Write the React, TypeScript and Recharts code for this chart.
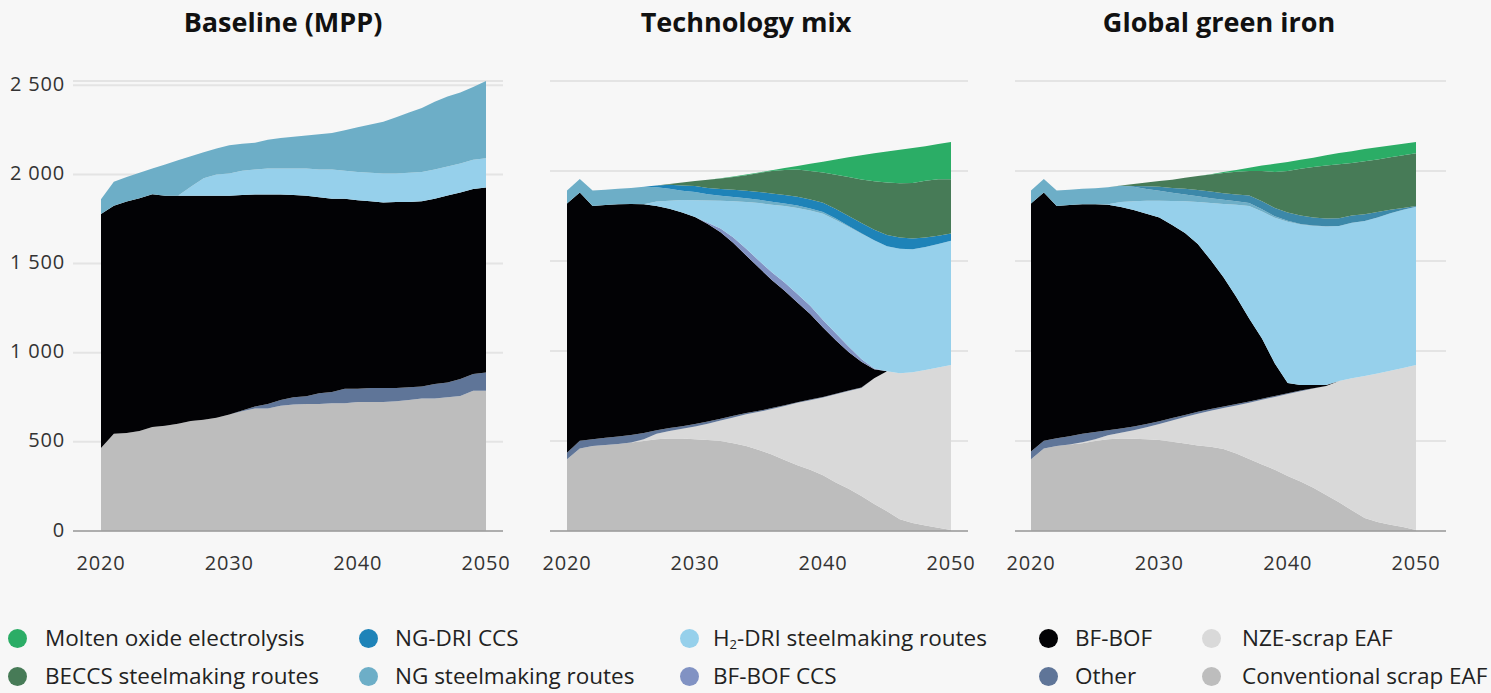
import React from 'react';
import { AreaChart, Area, XAxis, YAxis, CartesianGrid } from 'recharts';

const years = [2020,2021,2022,2023,2024,2025,2026,2027,2028,2029,2030,2031,2032,2033,2034,2035,2036,2037,2038,2039,2040,2041,2042,2043,2044,2045,2046,2047,2048,2049,2050];
const xTicks = [2020, 2030, 2040, 2050];
const yTicks = [0, 500, 1000, 1500, 2000, 2500];
const yTickLabels = ['0', '500', '1 000', '1 500', '2 000', '2 500'];
const panelTitles = ['Baseline (MPP)', 'Technology mix', 'Global green iron'];

// Baseline (MPP)
const p1Conv = [465,546,550,561,583,591,602,617,624,635,654,672,687,687,702,709,713,713,717,717,724,724,724,728,735,743,743,750,757,787,787];
const p1Other = [0,0,0,0,0,0,0,0,0,0,0,4,11,26,33,41,43,59,63,81,74,78,78,74,71,68,81,83,95,94,102];
const p1BF = [1313,1278,1298,1306,1306,1289,1278,1263,1256,1245,1226,1208,1189,1174,1152,1135,1124,1100,1083,1065,1057,1048,1041,1043,1039,1039,1039,1049,1046,1037,1037];
const p1H2 = [0,0,0,0,0,0,0,51,98,120,125,136,141,146,146,148,153,156,165,157,158,160,162,160,165,163,165,163,163,165,165];
const p1NG = [83,135,137,143,144,175,200,171,147,145,158,152,150,161,171,179,185,198,205,228,252,270,291,315,338,359,379,392,398,408,433];

// Technology mix
const p2Conv = [398,459,472,478,484,491,500,510,514,514,510,505,500,488,472,450,425,395,365,340,310,270,235,195,150,110,65,45,30,18,5];
const p2NZE = [0,0,0,0,0,0,10,30,42,54,70,91,114,142,176,212,253,299,347,387,432,490,543,600,698,778,811,837,865,890,917];
const p2Other = [37,43,38,40,41,42,35,20,16,14,14,12,10,10,7,6,5,4,3,3,3,2,2,2,0,0,0,0,0,0,0];
const p2BF = [1385,1378,1296,1293,1290,1284,1270,1245,1218,1188,1151,1097,1036,960,875,794,712,637,555,475,385,298,215,143,50,0,0,0,0,0,0];
const p2CCS = [0,0,0,0,0,0,0,0,0,0,0,8,20,30,38,40,42,45,46,46,42,38,30,15,5,0,0,0,0,0,0];
const p2H2 = [0,0,0,0,0,0,0,25,45,69,93,123,155,202,260,320,375,425,479,529,590,630,665,697,712,694,692,683,683,687,691];
const p2NG = [71,76,85,85,86,89,97,80,66,51,46,35,28,24,20,18,17,15,14,12,10,8,5,2,0,0,0,0,0,0,0];
const p2DRI = [0,0,0,0,0,0,0,10,22,30,33,35,37,40,42,44,46,47,48,50,51,53,55,57,58,62,63,60,52,45,40];
const p2BECCS = [0,0,0,0,0,0,0,0,5,16,27,46,58,71,87,105,125,139,151,158,169,190,216,242,270,292,301,308,316,314,301];
const p2MOE = [0,0,0,0,0,0,0,0,0,0,0,0,2,3,3,3,4,10,20,40,60,85,110,135,155,172,186,195,192,196,207];

// Global green iron
const p3Conv = [398,459,472,480,488,500,510,514,512,510,505,496,486,475,468,455,430,400,370,340,305,275,240,200,160,115,72,50,35,22,6];
const p3NZE = [0,0,0,0,5,10,22,32,48,67,89,118,147,177,200,228,267,313,359,405,456,502,551,605,673,733,789,825,855,883,916];
const p3Other = [43,43,43,47,47,40,28,24,20,18,16,14,12,11,10,9,8,7,6,5,4,3,2,1,0,0,0,0,0,0,0];
const p3BF = [1379,1378,1291,1284,1275,1265,1252,1230,1203,1167,1132,1072,1010,932,827,718,595,460,335,180,57,31,18,5,0,0,0,0,0,0,0];
const p3CCS = [0,0,0,0,0,0,0,0,0,0,0,0,0,0,0,0,0,0,0,0,0,0,0,0,0,0,0,0,0,0,0];
const p3H2 = [0,0,0,0,0,0,3,28,49,73,93,134,177,233,317,406,512,626,705,810,896,892,884,881,862,864,861,867,875,880,880];
const p3NG = [71,76,85,85,86,89,95,90,80,65,55,45,38,32,27,24,20,16,12,8,5,3,2,1,0,0,0,0,0,0,0];
const p3DRI = [0,0,0,0,0,0,0,0,5,15,22,26,32,35,37,37,38,42,45,46,47,47,45,43,42,41,38,30,20,10,4];
const p3BECCS = [0,0,0,0,0,0,0,2,11,21,32,47,60,77,94,112,126,136,168,201,230,259,280,294,301,292,294,292,291,293,292];
const p3MOE = [0,0,0,0,0,0,0,0,0,0,0,0,0,0,2,5,10,18,30,45,50,50,52,58,62,65,68,68,66,64,63];

type S = { key: string; name: string; color: string };
const SERIES: S[] = [
  { key: 'conv', name: 'Conventional scrap EAF', color: '#bdbdbd' },
  { key: 'nze', name: 'NZE-scrap EAF', color: '#d9d9d9' },
  { key: 'other', name: 'Other', color: '#5f7598' },
  { key: 'bf', name: 'BF-BOF', color: '#020205' },
  { key: 'ccs', name: 'BF-BOF CCS', color: '#8192c3' },
  { key: 'h2', name: 'H2-DRI steelmaking routes', color: '#96d0eb' },
  { key: 'ng', name: 'NG steelmaking routes', color: '#6daec7' },
  { key: 'dri', name: 'NG-DRI CCS', color: '#1e83b8' },
  { key: 'beccs', name: 'BECCS steelmaking routes', color: '#477b57' },
  { key: 'moe', name: 'Molten oxide electrolysis', color: '#2bad66' },
];

const zeros = years.map(() => 0);
function build(arrs: Record<string, number[]>) {
  return years.map((y, i) => {
    const row: Record<string, number> = { year: y };
    SERIES.forEach((s) => { row[s.key] = (arrs[s.key] || zeros)[i]; });
    return row;
  });
}

const data1 = build({ conv: p1Conv, other: p1Other, bf: p1BF, h2: p1H2, ng: p1NG });
const data2 = build({ conv: p2Conv, nze: p2NZE, other: p2Other, bf: p2BF, ccs: p2CCS, h2: p2H2, ng: p2NG, dri: p2DRI, beccs: p2BECCS, moe: p2MOE });
const data3 = build({ conv: p3Conv, nze: p3NZE, other: p3Other, bf: p3BF, ccs: p3CCS, h2: p3H2, ng: p3NG, dri: p3DRI, beccs: p3BECCS, moe: p3MOE });

const FONT = "'Open Sans', 'DejaVu Sans', sans-serif";

const XTick = (props: any) => {
  const { x, payload } = props;
  return (
    <text x={x} y={562} dominantBaseline="central" textAnchor="middle" fontSize={20} fill="#333" fontFamily={FONT} letterSpacing={0.8}>
      {payload.value}
    </text>
  );
};

const YTick = (props: any) => {
  const { y, payload } = props;
  const idx = yTicks.indexOf(payload.value);
  return (
    <text x={65} y={y - 2} dominantBaseline="central" textAnchor="end" fontSize={20} fill="#333" fontFamily={FONT} letterSpacing={0.8}>
      {yTickLabels[idx]}
    </text>
  );
};

type PanelProps = {
  left: number; width: number; data: any[]; mLeft: number; mRight: number;
  padL: number; padR: number; showY: boolean; colors?: Record<string, string>; keys: string[];
};

function Panel(p: PanelProps) {
  return (
    <div style={{ position: 'absolute', left: p.left, top: 0 }}>
      <AreaChart width={p.width} height={600} data={p.data} margin={{ top: 81, right: p.mRight, bottom: 0, left: p.mLeft }}>
        <CartesianGrid vertical={false} stroke="#e4e4e4" strokeWidth={2} />
        <XAxis dataKey="year" type="number" domain={[2020, 2050]} ticks={xTicks} interval={0}
          padding={{ left: p.padL, right: p.padR }} height={69} tickLine={false}
          axisLine={{ stroke: '#9c9c9c', strokeWidth: 1.5 }} tick={<XTick />} />
        <YAxis domain={[0, 2500]} ticks={yTicks} interval={0} hide={!p.showY} width={p.showY ? 73 : 0}
          axisLine={false} tickLine={false} tick={<YTick />} />
        {SERIES.filter((s) => p.keys.includes(s.key)).map((s) => (
          <Area key={s.key} type="linear" dataKey={s.key} stackId="1" stroke="none"
            fill={(p.colors && p.colors[s.key]) || s.color} fillOpacity={1}
            isAnimationActive={false} dot={false} activeDot={false} />
        ))}
      </AreaChart>
    </div>
  );
}

const legendCols = [
  { cx: 17, tx: 45 },
  { cx: 368, tx: 395 },
  { cx: 689, tx: 713 },
  { cx: 1048, tx: 1075 },
  { cx: 1211, tx: 1242 },
];
const legendRows = [638, 676];
const legendOrder = [
  ['moe', 'dri', 'h2', 'bf', 'nze'],
  ['beccs', 'ng', 'ccs', 'other', 'conv'],
];

function LegendLabel({ s }: { s: S }) {
  if (s.key === 'h2') {
    return (<span>H<sub style={{ fontSize: 13, verticalAlign: -3, lineHeight: 0 }}>2</sub>-DRI steelmaking routes</span>);
  }
  return <span>{s.name}</span>;
}

export default function App() {
  const all = SERIES.map((s) => s.key);
  return (
    <div style={{ position: 'absolute', left: 0, top: 0, width: 1491, height: 693, background: '#f7f7f7', overflow: 'hidden', fontFamily: FONT }}>
      {panelTitles.map((t, i) => (
        <div key={t} style={{ position: 'absolute', left: [283, 746, 1219][i] - 200, width: 400, top: 3, textAlign: 'center', fontSize: 27, fontWeight: 700, color: '#111', lineHeight: '38px' }}>
          {t}
        </div>
      ))}
      <Panel left={0} width={520} data={data1} mLeft={0} mRight={17} padL={28} padR={17} showY={true} keys={['conv', 'other', 'bf', 'h2', 'ng']} />
      <Panel left={530} width={460} data={data2} mLeft={20} mRight={22} padL={17} padR={17} showY={false} keys={all} />
      <Panel left={1000} width={491} data={data3} mLeft={15} mRight={45} padL={16} padR={30} showY={false} keys={all} colors={{ dri: '#3c88a9' }} />
      {legendOrder.map((row, ri) => row.map((k, ci) => {
        const s = SERIES.find((x) => x.key === k)!;
        const col = legendCols[ci];
        const cy = legendRows[ri];
        return (
          <React.Fragment key={k}>
            <div style={{ position: 'absolute', left: col.cx - 9.5, top: cy - 9.5, width: 19, height: 19, borderRadius: 10, background: s.color }} />
            <div style={{ position: 'absolute', left: col.tx, top: cy - 12, height: 24, lineHeight: '24px', fontSize: 22.5, color: '#222', whiteSpace: 'nowrap' }}>
              <LegendLabel s={s} />
            </div>
          </React.Fragment>
        );
      }))}
    </div>
  );
}
